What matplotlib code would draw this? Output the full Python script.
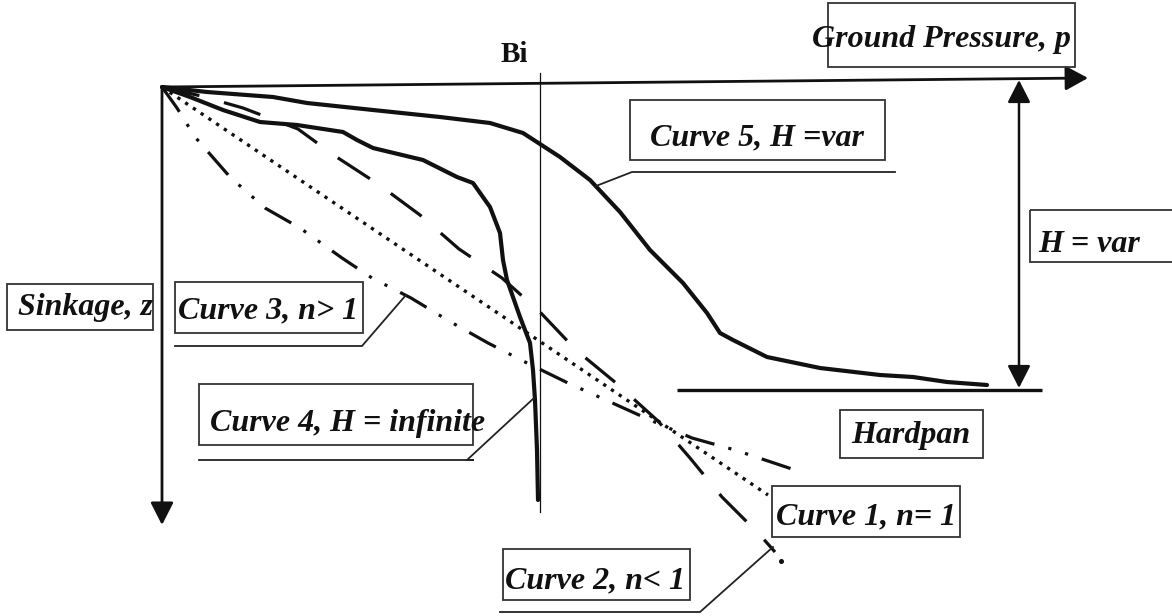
import matplotlib
matplotlib.use("Agg")
import matplotlib.pyplot as plt
from matplotlib.patches import Rectangle

# ---- data (p = ground pressure offset, z = sinkage offset, schematic units) ----
curve1_p = [0, 606]
curve1_z = [0, 408]

curve2_p = [0, 39, 81, 136, 173, 216, 258, 297, 340, 378, 414, 454, 496, 528, 560, 598, 613]
curve2_z = [0, 9, 21, 42, 69, 97, 128, 162, 191, 225, 263, 296, 334, 371, 410, 448, 465]

curve3_p = [0, 15, 33, 68, 103, 138, 180, 210, 249, 287, 326, 365, 406, 446, 488, 530, 573, 615, 633]
curve3_z = [0, 21, 50, 90, 121, 141, 171, 191, 211, 234, 256, 276, 296, 314, 333, 351, 363, 377, 383]

curve4_p = [0, 28, 61, 98, 135, 181, 195, 211, 261, 295, 311, 328, 338, 341, 345, 358, 368, 371, 373, 375, 376]
curve4_z = [0, 10, 23, 35, 38, 45, 53, 61, 73, 90, 96, 120, 146, 173, 193, 230, 256, 283, 313, 363, 413]

curve5_p = [0, 45, 111, 145, 211, 278, 328, 361, 398, 428, 458, 488, 521, 545, 558, 571, 605, 658, 718, 751, 785, 825]
curve5_z = [0, 5, 10, 16, 23, 30, 36, 46, 70, 93, 125, 163, 196, 226, 246, 253, 270, 281, 288, 290, 295, 298]

p_axis_end = (926, -9)
z_axis_end = (0, 438)
bi_p = 378
hardpan_z = 303
hardpan_p = (515, 880)

labels = {
    "p": "Ground Pressure, p",
    "z": "Sinkage, z",
    "bi": "Bi",
    "c1": "Curve 1, n= 1",
    "c2": "Curve 2, n< 1",
    "c3": "Curve 3, n> 1",
    "c4": "Curve 4, H = infinite",
    "c5": "Curve 5, H =var",
    "H": "H = var",
    "hp": "Hardpan",
}

# ---- figure ----
fig = plt.figure(figsize=(11.72, 6.16), dpi=100)
ax = fig.add_axes([0, 0, 1, 1])
ax.set_xlim(-162, 1010)
ax.set_ylim(529, -87)
ax.axis("off")

K = "#111111"
font = dict(family="Liberation Serif", weight="bold", style="italic", color=K)

# axes arrows
ax.annotate("", xy=p_axis_end, xytext=(0, 0),
            arrowprops=dict(arrowstyle="-|>,head_length=0.55,head_width=0.3",
                            lw=2, color=K, mutation_scale=25, shrinkA=0, shrinkB=0))
ax.annotate("", xy=z_axis_end, xytext=(0, 0),
            arrowprops=dict(arrowstyle="-|>,head_length=0.55,head_width=0.28",
                            lw=2, color=K, mutation_scale=25, shrinkA=0, shrinkB=0))
# H double arrow
ax.annotate("", xy=(857, hardpan_z - 2), xytext=(857, -7),
            arrowprops=dict(arrowstyle="<|-|>,head_length=0.55,head_width=0.28",
                            lw=1.8, color=K, mutation_scale=25, shrinkA=0, shrinkB=0))

# Bi vertical line
ax.plot([bi_p, bi_p], [-14, 425], color=K, lw=0.9)
# hardpan line
ax.plot(hardpan_p, [hardpan_z, hardpan_z], color=K, lw=2.4, solid_capstyle="butt")

# curves
ax.plot(curve1_p, curve1_z, color=K, lw=2.4, linestyle=(0, (1, 1.8)))
ax.plot(curve2_p, curve2_z, color=K, lw=2.3, linestyle=(0, (12, 8)))
ax.plot(curve3_p, curve3_z, color=K, lw=2.3, linestyle=(0, (9.5, 4.5, 1, 4.5, 1, 4.5)))
ax.plot(curve4_p, curve4_z, color=K, lw=3.0, solid_joinstyle="round", solid_capstyle="round")
ax.plot(curve5_p, curve5_z, color=K, lw=3.0, solid_joinstyle="round", solid_capstyle="round")
ax.plot([619], [474], "o", color=K, ms=2.6)

# boxes
def box(x0, z0, x1, z1):
    ax.add_patch(Rectangle((x0, z0), x1 - x0, z1 - z0, fill=False,
                           edgecolor="#333333", lw=1.3, zorder=3))

def leader(pts):
    xs, zs = zip(*pts)
    ax.plot(xs, zs, color="#222222", lw=1.3)

fs = 23
box(666, -84, 913, -20)
ax.text(650, -48, labels["p"], fontsize=fs, ha="left", va="center", **font)

ax.text(352, -33, labels["bi"], fontsize=21, ha="center", va="center",
        family="Liberation Serif", weight="bold", color=K)

box(468, 13, 723, 73)
ax.text(595, 51, labels["c5"], fontsize=fs, ha="center", va="center", **font)
leader([(733, 85), (470, 85), (434, 99)])

box(868, 123, 1020, 175)
ax.text(876, 157, labels["H"], fontsize=fs, ha="left", va="center", **font)

box(678, 323, 821, 371)
ax.text(749, 348, labels["hp"], fontsize=fs, ha="center", va="center", **font)

box(610, 399, 798, 450)
ax.text(704, 430, labels["c1"], fontsize=fs, ha="center", va="center", **font)

box(341, 462, 528, 513)
ax.text(433, 494, labels["c2"], fontsize=fs, ha="center", va="center", **font)
leader([(338, 525), (538, 525), (611, 460)])

box(13, 195, 201, 246)
ax.text(106, 224, labels["c3"], fontsize=fs, ha="center", va="center", **font)
leader([(13, 259), (200, 259), (244, 208)])

box(37, 297, 311, 358)
ax.text(48, 337, labels["c4"], fontsize=fs, ha="left", va="center", **font)
leader([(37, 373), (311, 373), (305, 373), (372, 311)])

box(-155, 197, -9, 243)
ax.text(-144, 221, labels["z"], fontsize=fs, ha="left", va="center", **font)

fig.savefig("out.png", dpi=100)
